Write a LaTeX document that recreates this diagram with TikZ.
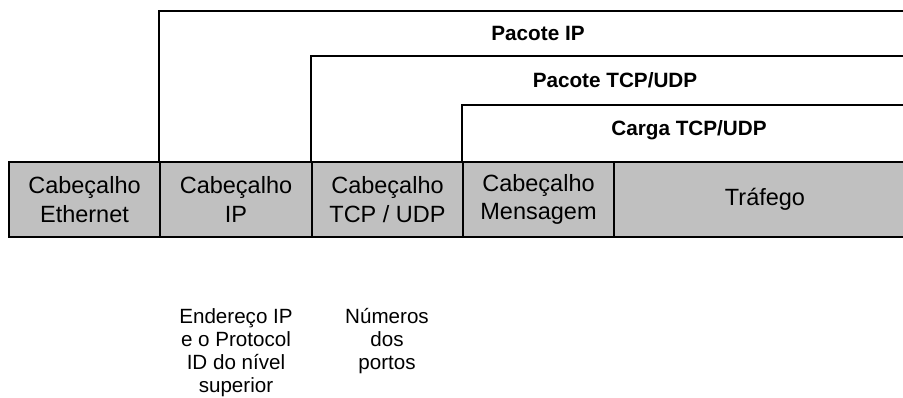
\documentclass[tikz,border=0pt]{standalone}
\usepackage{fontspec}
\setmainfont{Liberation Sans}
\definecolor{barfill}{HTML}{C0C0C0}
\begin{document}
\begin{tikzpicture}[x=1pt,y=-1pt,
  cell/.style={draw=black, line width=1.8pt, fill=barfill, minimum height=75pt,
    inner sep=0pt, align=center, font=\fontsize{23.5}{28.5}\selectfont},
  bracket/.style={draw=black, line width=1.8pt},
  span/.style={anchor=base, inner sep=0pt, font=\bfseries\fontsize{20.7}{24}\selectfont},
  note/.style={anchor=base, inner sep=0pt, align=center, font=\fontsize{20.6}{23}\selectfont}]
\useasboundingbox (0,0) rectangle (903,398);

% right ends of the span brackets above the header bar
\coordinate (ipend) at (918,11);
\coordinate (tcpend) at (918,56);
\coordinate (loadend) at (918,105);

% header bar
\node[cell, minimum width=151pt] (eth) at (84.5,199.5) {Cabeçalho\\Ethernet};
\node[cell, minimum width=152pt] (ip) at (236,199.5) {Cabeçalho\\IP};
\node[cell, minimum width=151pt] (tcp) at (387.5,199.5) {Cabeçalho\\TCP / UDP};
\node[cell, minimum width=151pt] (msg) at (538.5,199.5) {Cabeçalho\\Mensagem};
\node[cell, minimum width=302pt] (traf) at (765,199.5) {Tráfego};

\draw[bracket] (ip.north west) |- (ipend);
\draw[bracket] (tcp.north west) |- (tcpend);
\draw[bracket] (msg.north west) |- (loadend);

\node[span] (lip) at (538,41) {Pacote IP};
\node[span] (ltcp) at (615,88) {Pacote TCP/UDP};
\node[span] (lload) at (689,136) {Carga TCP/UDP};

% notes under the bar (anchored at the baseline of their last line)
\node[note] (nip) at (236,392) {Endereço IP\\e o Protocol\\ID do nível\\superior};
\node[note] (ntcp) at (387,369) {Números\\dos\\portos};
\end{tikzpicture}
\end{document}
